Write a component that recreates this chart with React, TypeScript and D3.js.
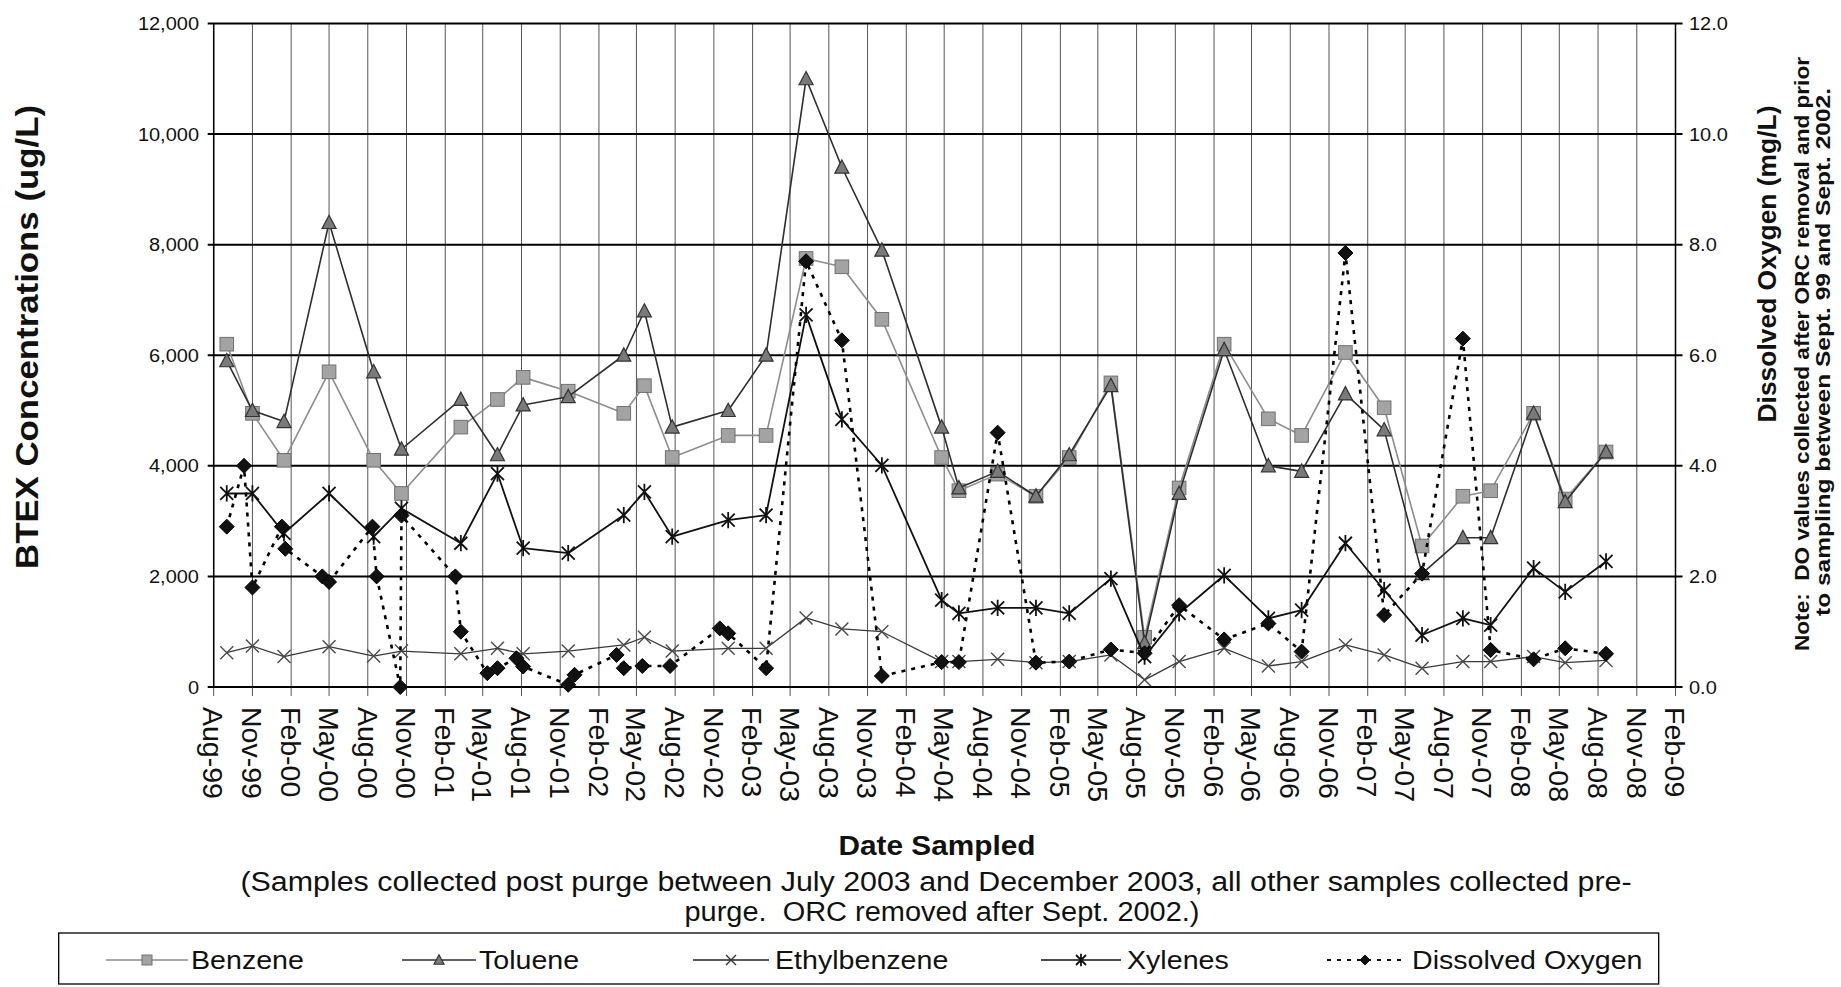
import React from "react";
import * as d3 from "d3";

// Sampling dates shared by the four BTEX compounds
const sampleDates = [
  "1999-09-01", "1999-11-01", "2000-01-15", "2000-05-01", "2000-08-15",
  "2000-10-20", "2001-03-10", "2001-06-05", "2001-08-05", "2001-11-20",
  "2002-04-01", "2002-05-20", "2002-07-25", "2002-12-05", "2003-03-05",
  "2003-06-08", "2003-09-01", "2003-12-05", "2004-04-25", "2004-06-05",
  "2004-09-05", "2004-12-05", "2005-02-22", "2005-06-01", "2005-08-20",
  "2005-11-10", "2006-02-25", "2006-06-10", "2006-08-28", "2006-12-10",
  "2007-03-12", "2007-06-10", "2007-09-15", "2007-11-20", "2008-03-01",
  "2008-05-15", "2008-08-20",
];

// BTEX concentrations, ug/L
const benzene = [
  6200, 4950, 4100, 5700, 4100, 3500, 4700, 5200, 5600, 5350,
  4950, 5450, 4150, 4550, 4550, 7750, 7600, 6650, 4150, 3550,
  3850, 3450, 4150, 5500, 900, 3600, 6200, 4850, 4550, 6050,
  5050, 2550, 3450, 3550, 4950, 3400, 4250,
];
const toluene = [
  5900, 5000, 4800, 8400, 5700, 4300, 5200, 4200, 5100, 5250,
  6000, 6800, 4700, 5000, 6000, 11000, 9400, 7900, 4700, 3600,
  3900, 3450, 4200, 5450, 800, 3500, 6100, 4000, 3900, 5300,
  4650, 2050, 2700, 2700, 4950, 3350, 4250,
];
const ethylbenzene = [
  620, 740, 550, 730, 560, 650, 600, 700, 600, 650,
  760, 900, 650, 700, 700, 1250, 1050, 1000, 460, 460,
  500, 440, 460, 580, 130, 460, 700, 380, 460, 760,
  580, 340, 460, 460, 550, 440, 480,
];
const xylenes = [
  3500, 3500, 2780, 3500, 2720, 3230, 2600, 3860, 2510, 2420,
  3110, 3530, 2720, 3020, 3110, 6730, 4840, 4010, 1570, 1330,
  1430, 1430, 1330, 1960, 550, 1330, 2020, 1240, 1390, 2600,
  1750, 940, 1240, 1120, 2150, 1720, 2270,
];

// Dissolved oxygen field readings, mg/L
const doDates = [
  "1999-09-01", "1999-10-12", "1999-11-01", "2000-01-10", "2000-01-18",
  "2000-04-15", "2000-05-01", "2000-08-12", "2000-08-22", "2000-10-17",
  "2000-10-20", "2001-02-25", "2001-03-10", "2001-05-12", "2001-06-05",
  "2001-07-20", "2001-08-05", "2001-11-20", "2001-12-05", "2002-03-15",
  "2002-04-01", "2002-05-15", "2002-07-20", "2002-11-15", "2002-12-05",
  "2003-03-05", "2003-06-08", "2003-09-01", "2003-12-05", "2004-04-25",
  "2004-06-05", "2004-09-05", "2004-12-05", "2005-02-22", "2005-06-01",
  "2005-08-20", "2005-11-10", "2006-02-25", "2006-06-10", "2006-08-28",
  "2006-12-10", "2007-03-12", "2007-06-10", "2007-09-15", "2007-11-20",
  "2008-03-01", "2008-05-15", "2008-08-20",
];
const dissolvedOxygen = [
  2.9, 4.0, 1.8, 2.9, 2.5,
  2.0, 1.9, 2.9, 2.0, 0.0,
  3.1, 2.0, 1.0, 0.25, 0.34,
  0.52, 0.37, 0.04, 0.22, 0.58,
  0.34, 0.38, 0.38, 1.06, 0.97,
  0.34, 7.7, 6.27, 0.2, 0.45,
  0.45, 4.6, 0.44, 0.46, 0.68,
  0.61, 1.48, 0.86, 1.15, 0.64,
  7.85, 1.3, 2.05, 6.3, 0.67,
  0.5, 0.7, 0.6,
];

const btexTicks = [0, 2000, 4000, 6000, 8000, 10000, 12000];
const doTicks = [0, 2, 4, 6, 8, 10, 12];
const axisStart = "1999-08-01";
const axisEnd = "2009-02-01";

const legendLabels = ["Benzene", "Toluene", "Ethylbenzene", "Xylenes", "Dissolved Oxygen"];

const FONT = "'Liberation Sans', Arial, Helvetica, sans-serif";
const PRE = { whiteSpace: "pre" as const };

type MarkerKind = "square" | "triangle" | "cross" | "star" | "diamond";

function Marker({ kind, cx, cy, s, fill, stroke }: { kind: MarkerKind; cx: number; cy: number; s: number; fill: string; stroke: string }) {
  const t = `translate(${cx},${cy})`;
  switch (kind) {
    case "square":
      return <rect transform={t} x={-s} y={-s} width={2 * s} height={2 * s} fill={fill} stroke={stroke} strokeWidth={1} />;
    case "triangle":
      return <path transform={t} d={`M0,${-s * 1.05}L${s},${s * 0.85}L${-s},${s * 0.85}Z`} fill={fill} stroke={stroke} strokeWidth={1.2} />;
    case "cross":
      return <path transform={t} d={`M${-s},${-s}L${s},${s}M${-s},${s}L${s},${-s}`} fill="none" stroke={stroke} strokeWidth={1.4} />;
    case "star":
      return <path transform={t} d={`M${-s},${-s}L${s},${s}M${-s},${s}L${s},${-s}M0,${-s * 1.25}L0,${s * 1.25}`} fill="none" stroke={stroke} strokeWidth={1.8} />;
    default:
      return <path transform={t} d={`M0,${-s}L${s},0L0,${s}L${-s},0Z`} fill={fill} stroke={stroke} strokeWidth={1} />;
  }
}

export default function App() {
  const parse = d3.timeParse("%Y-%m-%d");
  const left = 213.7, right = 1675.5, top = 23.5, bottom = 687;

  const x = d3.scaleTime().domain([parse(axisStart)!, parse(axisEnd)!]).range([left, right]);
  const y = d3.scaleLinear().domain([0, 12000]).range([bottom, top]);
  const y2 = d3.scaleLinear().domain([0, 12]).range([bottom, top]);

  const xTicks = d3.timeMonth.range(parse(axisStart)!, d3.timeDay.offset(parse(axisEnd)!, 1), 3);
  const fmtX = d3.timeFormat("%b-%y");
  const fmtLeft = d3.format(",");
  const fmtRight = d3.format(".1f");

  const dates = sampleDates.map((d) => parse(d)!);
  const oDates = doDates.map((d) => parse(d)!);

  const btexLine = d3.line<[Date, number]>().x((d) => x(d[0])).y((d) => y(d[1]));
  const doLine = d3.line<[Date, number]>().x((d) => x(d[0])).y((d) => y2(d[1]));

  const series = [
    { label: legendLabels[0], values: benzene, line: "#8d8d8d", lw: 1.6, kind: "square" as MarkerKind, fill: "#a3a3a3", mstroke: "#707070", s: 6.8 },
    { label: legendLabels[1], values: toluene, line: "#2e2e2e", lw: 1.6, kind: "triangle" as MarkerKind, fill: "#7a7a7a", mstroke: "#333", s: 7 },
    { label: legendLabels[2], values: ethylbenzene, line: "#3a3a3a", lw: 1.3, kind: "cross" as MarkerKind, fill: "none", mstroke: "#4a4a4a", s: 6.5 },
    { label: legendLabels[3], values: xylenes, line: "#111", lw: 1.8, kind: "star" as MarkerKind, fill: "none", mstroke: "#111", s: 6.5 },
  ];

  const legendItems = [
    { x0: 106, x1: 188, tx: 191, kind: "square" as MarkerKind, line: "#8d8d8d", fill: "#a3a3a3", mstroke: "#707070", dash: "" },
    { x0: 402, x1: 476, tx: 479, kind: "triangle" as MarkerKind, line: "#2e2e2e", fill: "#7a7a7a", mstroke: "#333", dash: "" },
    { x0: 693, x1: 769, tx: 775, kind: "cross" as MarkerKind, line: "#222", fill: "none", mstroke: "#333", dash: "" },
    { x0: 1041, x1: 1121, tx: 1127, kind: "star" as MarkerKind, line: "#111", fill: "none", mstroke: "#111", dash: "" },
    { x0: 1327, x1: 1403, tx: 1412, kind: "diamond" as MarkerKind, line: "#111", fill: "#111", mstroke: "#111", dash: "4 6" },
  ];
  const legendY = 960;

  return (
    <svg width={1841} height={987} style={{ position: "absolute", left: 0, top: 0, background: "#fff" }} fontFamily={FONT}>
      <rect width={1841} height={987} fill="#fff" />

      {/* vertical quarter gridlines with outward ticks */}
      {xTicks.map((d, i) => (
        <line key={`vg${i}`} x1={x(d)} x2={x(d)} y1={top} y2={bottom + 9} stroke="#555" strokeWidth={1} />
      ))}

      {/* horizontal major gridlines */}
      {btexTicks.map((v, i) => (
        <line key={`hg${i}`} x1={left - 6} x2={right + 7} y1={y(v)} y2={y(v)} stroke="#000" strokeWidth={2} />
      ))}

      {/* axis lines */}
      <line x1={left} x2={left} y1={top} y2={bottom} stroke="#000" strokeWidth={1.5} />
      <line x1={right} x2={right} y1={top} y2={bottom} stroke="#000" strokeWidth={1.5} />

      {/* left tick labels */}
      {btexTicks.map((v, i) => (
        <text key={`yl${i}`} transform={`translate(199,${y(v)}) scale(1.08,1)`} dy="0.36em" textAnchor="end" fontSize={18.5} fill="#111">
          {fmtLeft(v)}
        </text>
      ))}
      {/* right tick labels */}
      {doTicks.map((v, i) => (
        <text key={`yr${i}`} transform={`translate(1689,${y2(v)}) scale(1.08,1)`} dy="0.36em" textAnchor="start" fontSize={18.5} fill="#111">
          {fmtRight(v)}
        </text>
      ))}
      {/* date tick labels */}
      {xTicks.map((d, i) => (
        <text key={`xl${i}`} transform={`translate(${x(d)},707) rotate(90)`} dy="0.36em" textAnchor="start" fontSize={28.5} fill="#111">
          {fmtX(d)}
        </text>
      ))}

      {/* BTEX series */}
      {series.map((s, si) => {
        const pts = dates.map((d, i) => [d, s.values[i]] as [Date, number]);
        return (
          <g key={`s${si}`}>
            <path d={btexLine(pts) ?? ""} fill="none" stroke={s.line} strokeWidth={s.lw} strokeLinejoin="round" />
            {pts.map((p, i) => (
              <Marker key={i} kind={s.kind} cx={x(p[0])} cy={y(p[1])} s={s.s} fill={s.fill} stroke={s.mstroke} />
            ))}
          </g>
        );
      })}

      {/* dissolved oxygen, secondary axis */}
      {(() => {
        const pts = oDates.map((d, i) => [d, dissolvedOxygen[i]] as [Date, number]);
        return (
          <g>
            <path d={doLine(pts) ?? ""} fill="none" stroke="#000" strokeWidth={2.6} strokeDasharray="4 6" />
            {pts.map((p, i) => (
              <Marker key={i} kind="diamond" cx={x(p[0])} cy={y2(p[1])} s={7.5} fill="#111" stroke="#000" />
            ))}
          </g>
        );
      })()}

      {/* axis titles */}
      <text transform="translate(38,337) rotate(-90)" textAnchor="middle" fontWeight="bold" fontSize={32} textLength={464} lengthAdjust="spacingAndGlyphs" fill="#111">
        BTEX Concentrations (ug/L)
      </text>
      <text transform="translate(1776,264) rotate(-90)" textAnchor="middle" fontWeight="bold" fontSize={25} textLength={317} lengthAdjust="spacingAndGlyphs" fill="#111">
        Dissolved Oxygen (mg/L)
      </text>
      <text transform="translate(1809,354) rotate(-90)" textAnchor="middle" fontWeight="bold" fontSize={20} textLength={594} lengthAdjust="spacingAndGlyphs" fill="#111" style={PRE}>
        {"Note:  DO values collected after ORC removal and prior"}
      </text>
      <text transform="translate(1830,352) rotate(-90)" textAnchor="middle" fontWeight="bold" fontSize={20} textLength={528} lengthAdjust="spacingAndGlyphs" fill="#111">
        to sampling between Sept. 99 and Sept. 2002.
      </text>

      <text x={937} y={855} textAnchor="middle" fontWeight="bold" fontSize={27} textLength={197} lengthAdjust="spacingAndGlyphs" fill="#111">
        Date Sampled
      </text>
      <text x={936} y={891} textAnchor="middle" fontSize={27} textLength={1391} lengthAdjust="spacingAndGlyphs" fill="#111">
        (Samples collected post purge between July 2003 and December 2003, all other samples collected pre-
      </text>
      <text x={942} y={921} textAnchor="middle" fontSize={27} textLength={515} lengthAdjust="spacingAndGlyphs" fill="#111" style={PRE}>
        {"purge.  ORC removed after Sept. 2002.)"}
      </text>

      {/* legend */}
      <rect x={58.7} y={933} width={1600} height={51} fill="#fff" stroke="#000" strokeWidth={1.3} />
      {legendItems.map((it, i) => (
        <g key={`lg${i}`}>
          <line x1={it.x0} x2={it.x1} y1={legendY} y2={legendY} stroke={it.line} strokeWidth={it.dash ? 2 : 1.5} strokeDasharray={it.dash || undefined} />
          <Marker kind={it.kind} cx={(it.x0 + it.x1) / 2} cy={legendY} s={5} fill={it.fill} stroke={it.mstroke} />
          <text transform={`translate(${it.tx},${legendY}) scale(1.1,1)`} dy="0.36em" fontSize={26} fill="#111">
            {legendLabels[i]}
          </text>
        </g>
      ))}
    </svg>
  );
}
